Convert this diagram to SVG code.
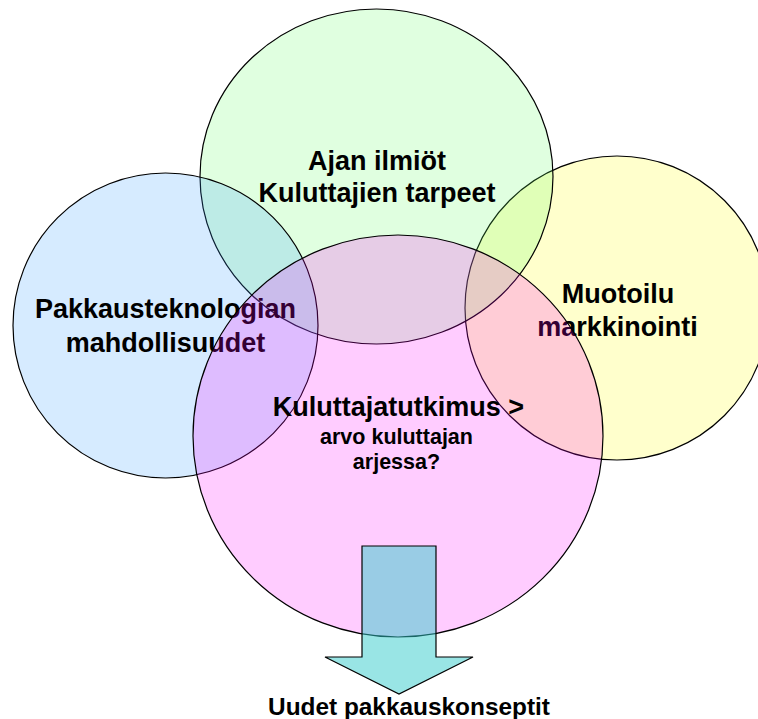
<svg xmlns="http://www.w3.org/2000/svg" width="758" height="719" viewBox="0 0 758 719">
<style>
.c{stroke:#000;stroke-width:1.2}
.t{font-family:"Liberation Sans",Arial,sans-serif;font-weight:bold;fill:#000;text-anchor:middle}
.big{font-size:27px}
.mid{font-size:21.5px}
</style>
<rect width="758" height="719" fill="#fff"/>
<g id="node-muotoilu">
<circle class="c" cx="617" cy="308" r="152" fill="#FFFF00" fill-opacity="0.2"/>
<text class="t big" x="618" y="303">Muotoilu</text>
<text class="t big" x="617.5" y="336">markkinointi</text>
</g>
<g id="node-ajan">
<ellipse class="c" cx="376.5" cy="176.5" rx="176.5" ry="167.5" fill="#66FF66" fill-opacity="0.2"/>
<text class="t big" x="377" y="170">Ajan ilmiöt</text>
<text class="t big" x="377" y="201.5">Kuluttajien tarpeet</text>
</g>
<g id="node-pakkaus">
<circle class="c" cx="165.5" cy="325.5" r="152.5" fill="#3399FF" fill-opacity="0.2"/>
<text class="t big" x="165.5" y="318">Pakkausteknologian</text>
<text class="t big" x="165.5" y="351.5">mahdollisuudet</text>
</g>
<g id="node-kuluttaja">
<ellipse class="c" cx="398" cy="436" rx="205" ry="201" fill="#FF00FF" fill-opacity="0.2"/>
<text class="t big" x="398.5" y="416">Kuluttajatutkimus &gt;</text>
<text class="t mid" x="396.5" y="444">arvo kuluttajan</text>
<text class="t mid" x="396.5" y="469">arjessa?</text>
</g>
<g id="connectors">
<polygon points="362,546 436,546 436,657 473,657 399,694 325,657 362,657" fill="#33CCCC" fill-opacity="0.5" stroke="#000" stroke-width="1.2"/>
</g>
<g id="node-uudet">
<text class="t" style="font-size:24.4px" x="409" y="715">Uudet pakkauskonseptit</text>
</g>
</svg>
